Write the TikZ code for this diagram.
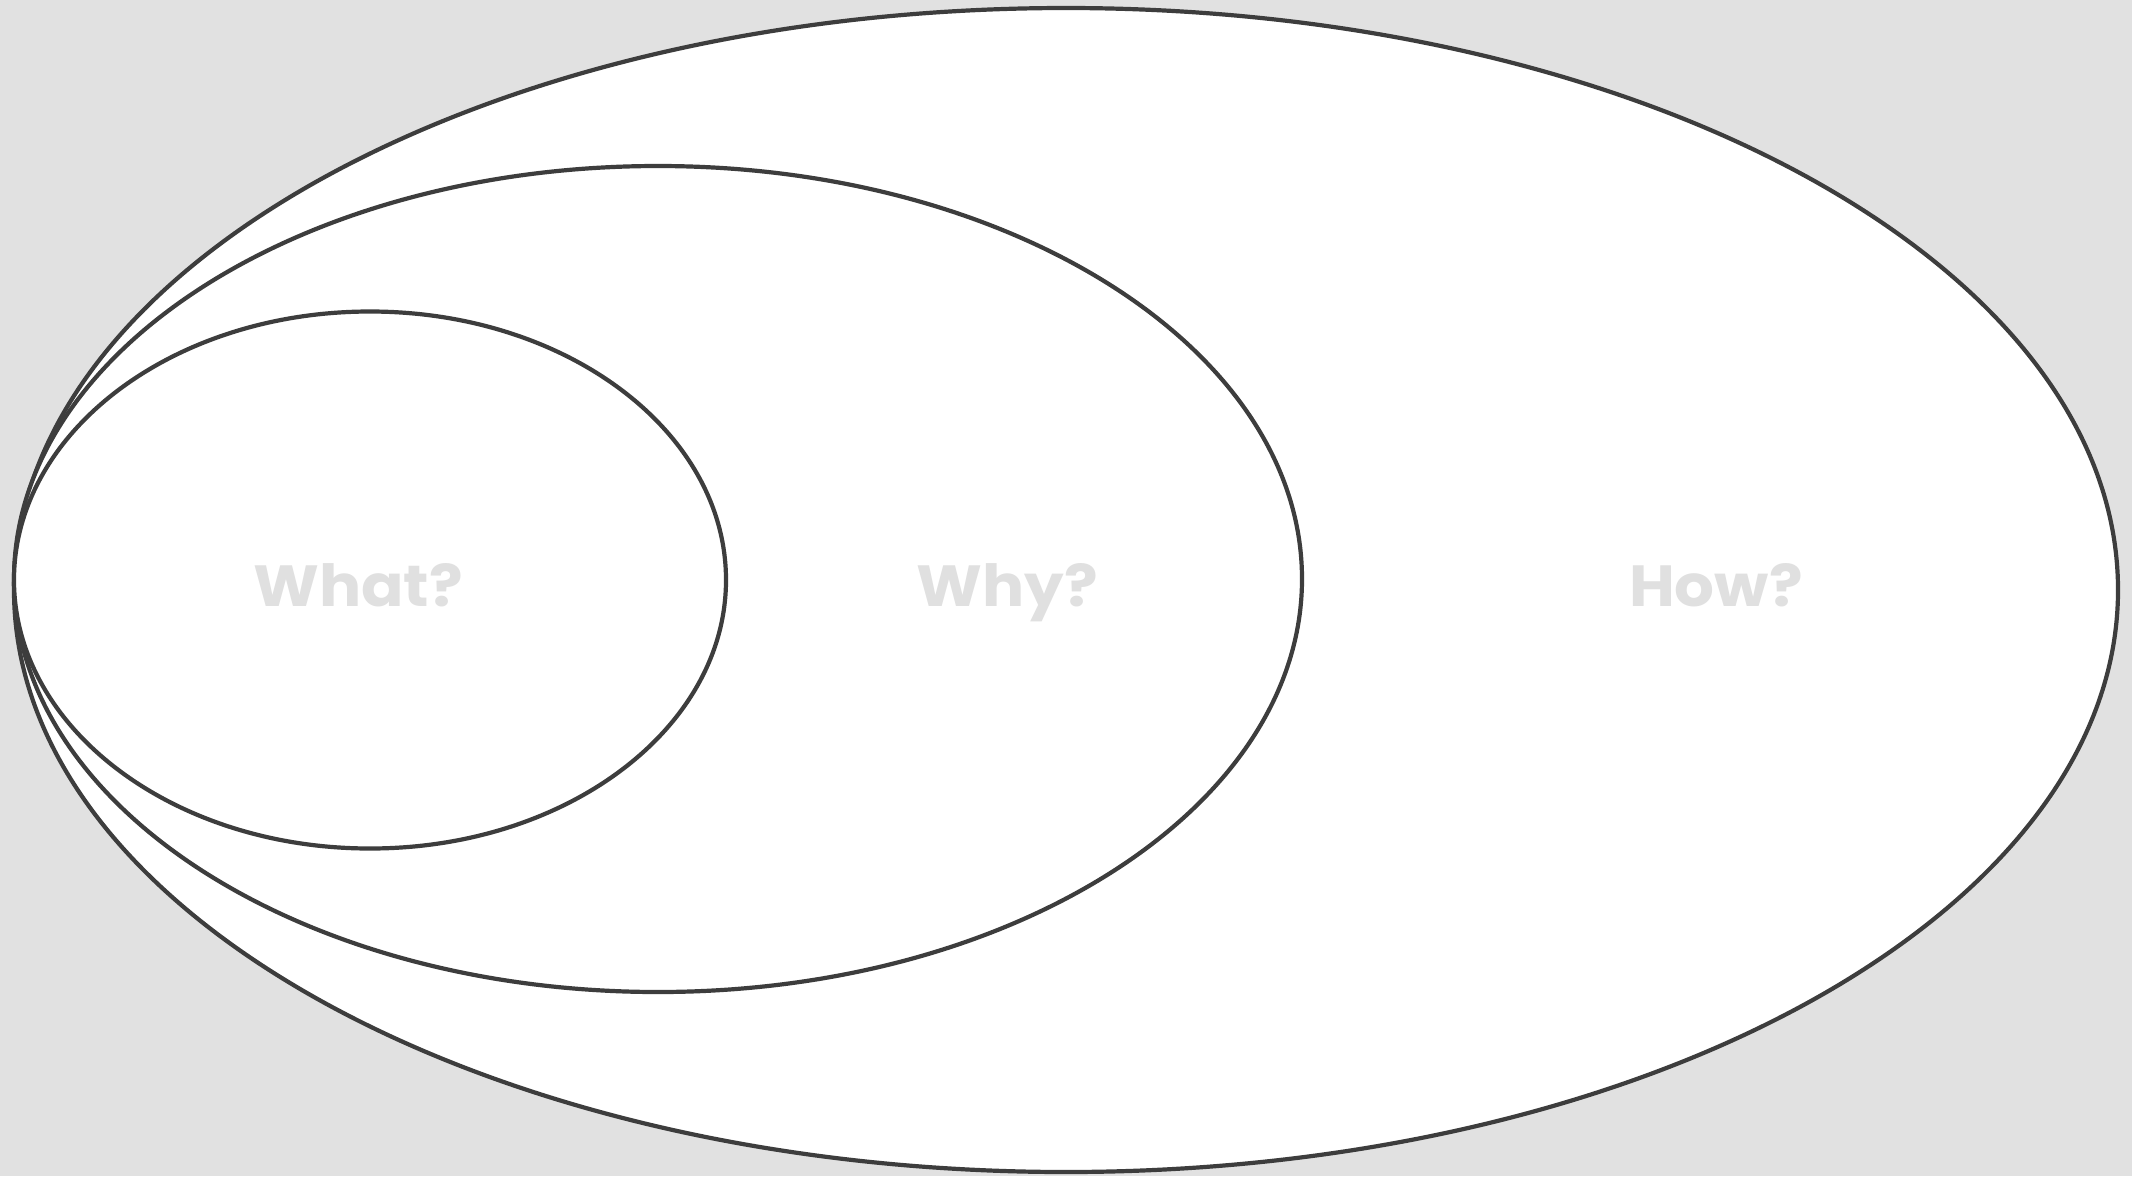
\documentclass[tikz,border=0pt]{standalone}
\usepackage{fontspec}
\newfontfamily\lblfont[FakeStretch=1.08]{Poppins}
\definecolor{bgc}{HTML}{E1E1E1}
\definecolor{linec}{HTML}{3D3D3D}
\definecolor{txtc}{HTML}{E0E0E0}
\begin{document}
\begin{tikzpicture}[x=1pt,y=-1pt,
  ring/.style={draw=linec,line width=4.2pt,fill=white},
  lbl/.style={text=txtc,font=\lblfont\fontsize{58}{58}\selectfont\bfseries,anchor=base,inner sep=0pt}]
\fill[bgc] (0,0) rectangle (2132,1176);
\useasboundingbox (0,0) rectangle (2132,1176);
\draw[ring] (1066,590) ellipse [x radius=1052, y radius=582];
\draw[ring] (658,579) ellipse [x radius=644, y radius=413];
\draw[ring] (370,580) ellipse [x radius=356, y radius=268.5];
\node[lbl] (what) at (358,606) {What?};
\node[lbl] (why) at (1007,606) {Why?};
\node[lbl] (how) at (1716,606) {How?};
\end{tikzpicture}
\end{document}
